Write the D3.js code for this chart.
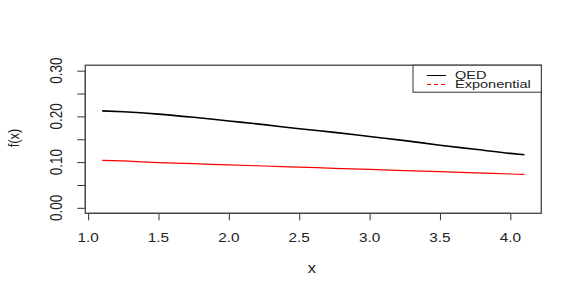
<!DOCTYPE html>
<html>
<head>
<meta charset="utf-8">
<script src="https://cdn.jsdelivr.net/npm/d3@7"></script>
<style>
  body { margin: 0; background: #fff; }
  text { font-family: "Liberation Sans", Arial, sans-serif; fill: #222; }
</style>
</head>
<body>
<div id="container"></div>
<script>
// chart data
const xValues = [1.1, 1.25, 1.5, 1.75, 2.0, 2.25, 2.5, 2.75, 3.0, 3.25, 3.5, 3.75, 4.0, 4.1];
const qedValues = [0.212, 0.210, 0.205, 0.198, 0.190, 0.182, 0.173, 0.165, 0.156, 0.147, 0.137, 0.128, 0.119, 0.116];
const expValues = [0.104, 0.1025, 0.099, 0.0965, 0.094, 0.0915, 0.089, 0.0865, 0.084, 0.0815, 0.079, 0.0765, 0.074, 0.073];
const xTicks = [1.0, 1.5, 2.0, 2.5, 3.0, 3.5, 4.0];
const yTicks = [0.00, 0.05, 0.10, 0.15, 0.20, 0.25, 0.30];
const yLabels = [0.00, 0.10, 0.20, 0.30];
const seriesNames = ['QED', 'Exponential'];

const width = 586;
const height = 295;
const box = { left: 85.3, right: 541.3, top: 65.2, bottom: 213.3 };
const stretch = 1.18; // the picture is a bit wider than tall

const svg = d3.select('#container')
    .append('svg')
    .attr('width', width)
    .attr('height', height);

// scales, R style 4% padding
const xScale = d3.scaleLinear()
    .domain([0.98, 4.22])
    .range([box.left, box.right]);

const yScale = d3.scaleLinear()
    .domain([-0.012, 0.312])
    .range([box.bottom, box.top]);

// helper for stretched text
function label(x, y, str, size, rot, anchor, sx) {
    svg.append('text')
        .attr('transform', `translate(${x},${y}) scale(${sx || stretch},1) rotate(${rot || 0})`)
        .attr('text-anchor', anchor || 'middle')
        .style('font-size', size + 'px')
        .text(str);
}

// x axis
const xAxis = d3.axisBottom(xScale)
    .tickValues(xTicks)
    .tickSize(7)
    .tickFormat('');
const gx = svg.append('g')
    .attr('transform', `translate(0, ${box.bottom})`)
    .call(xAxis);
gx.select('.domain').attr('d', `M${xScale(1.0)},0H${xScale(4.0)}`);
gx.selectAll('path, line').attr('stroke', '#333');

xTicks.forEach((t) => label(xScale(t), 242, d3.format('.1f')(t), 13));

// y axis
const yAxis = d3.axisLeft(yScale)
    .tickValues(yTicks)
    .tickSize(8)
    .tickFormat('');
const gy = svg.append('g')
    .attr('transform', `translate(${box.left}, 0)`)
    .call(yAxis);
gy.select('.domain').attr('d', `M0,${yScale(0)}V${yScale(0.30)}`);
gy.selectAll('path, line').attr('stroke', '#333');

yLabels.forEach((t) => label(61.5, yScale(t), d3.format('.2f')(t), 13.5, -90));

// axis titles
label(312, 273, 'x', 14);
label(19, 138, 'f(x)', 13, -90);

// lines
const line = d3.line()
    .x((d, i) => xScale(xValues[i]))
    .y((d) => yScale(d))
    .curve(d3.curveMonotoneX);

svg.append('path')
    .datum(expValues)
    .attr('d', line)
    .attr('fill', 'none')
    .attr('stroke', '#ff0000')
    .attr('stroke-width', 1.2);

svg.append('path')
    .datum(qedValues)
    .attr('d', line)
    .attr('fill', 'none')
    .attr('stroke', '#000')
    .attr('stroke-width', 1.6);

// plot box
svg.append('rect')
    .attr('x', box.left)
    .attr('y', box.top)
    .attr('width', box.right - box.left)
    .attr('height', box.bottom - box.top)
    .attr('fill', 'none')
    .attr('stroke', '#444')
    .attr('stroke-width', 1.3);

// legend
svg.append('rect')
    .attr('x', 413)
    .attr('y', box.top)
    .attr('width', box.right - 413)
    .attr('height', 27)
    .attr('fill', '#fff')
    .attr('stroke', '#333');

const legendY = [75.5, 84.5];
const legendColor = ['#000', '#ff0000'];
const legendDash = [null, '4,3'];
seriesNames.forEach((name, i) => {
    svg.append('line')
        .attr('x1', 427)
        .attr('x2', 446)
        .attr('y1', legendY[i])
        .attr('y2', legendY[i])
        .attr('stroke', legendColor[i])
        .attr('stroke-dasharray', legendDash[i]);
    label(455, legendY[i] + 3.8, name, 11, 0, 'start', 1.32);
});
</script>
</body>
</html>
